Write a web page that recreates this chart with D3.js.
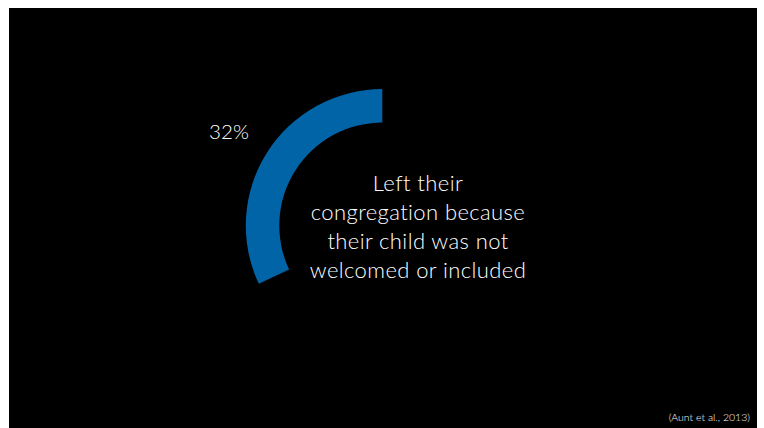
<!DOCTYPE html>
<html>
<head>
<meta charset="utf-8">
<script src="https://cdn.jsdelivr.net/npm/d3@7"></script>
<style>
  html, body { margin: 0; padding: 0; background: #ffffff; }
  svg { display: block; }
</style>
</head>
<body>
<svg id="chart" width="764" height="428"></svg>
<script>
// Share of families who left their congregation
const shareLabels = ["32%"];
const shareValues = [32];
const captionLines = ["Left their", "congregation because", "their child was not", "welcomed or included"];
const sourceNote = ["(Aunt et al., 2013)"];

const svg = d3.select("#chart");

// slide background
svg.append("rect")
  .attr("x", 9).attr("y", 8)
  .attr("width", 748).attr("height", 420)
  .attr("fill", "#000000");

const cx = 382.3, cy = 225.6;
const outerR = 136.5, innerR = 103;

// percentage mapped to a full turn, drawn counter-clockwise from 12 o'clock
const angle = d3.scaleLinear().domain([0, 100]).range([0, -2 * Math.PI]);

const arc = d3.arc().innerRadius(innerR).outerRadius(outerR);

const g = svg.append("g").attr("transform", `translate(${cx},${cy})`);
g.selectAll("path.share")
  .data(shareValues)
  .join("path")
  .attr("class", "share")
  .attr("d", d => arc({ startAngle: angle(d), endAngle: 0 }))
  .attr("fill", "#0064A7");

const font = "Lato, 'Open Sans', sans-serif";

svg.selectAll("text.pct")
  .data(shareLabels)
  .join("text")
  .attr("class", "pct")
  .attr("x", 229).attr("y", 139)
  .attr("text-anchor", "middle")
  .attr("font-family", font)
  .attr("font-weight", 300)
  .attr("font-size", 20.5)
  .attr("fill", "#ffffff")
  .text(d => d);

svg.selectAll("text.caption")
  .data(captionLines)
  .join("text")
  .attr("class", "caption")
  .attr("x", 418)
  .attr("y", (d, i) => 191 + i * 29)
  .attr("text-anchor", "middle")
  .attr("font-family", font)
  .attr("font-weight", 300)
  .attr("font-size", 22)
  .attr("letter-spacing", 0.4)
  .attr("fill", "#ffffff")
  .text(d => d);

svg.selectAll("text.source")
  .data(sourceNote)
  .join("text")
  .attr("class", "source")
  .attr("x", 750).attr("y", 421)
  .attr("text-anchor", "end")
  .attr("font-family", font)
  .attr("font-weight", 300)
  .attr("font-size", 10.5)
  .attr("fill", "#ffffff")
  .text(d => d);
</script>
</body>
</html>
